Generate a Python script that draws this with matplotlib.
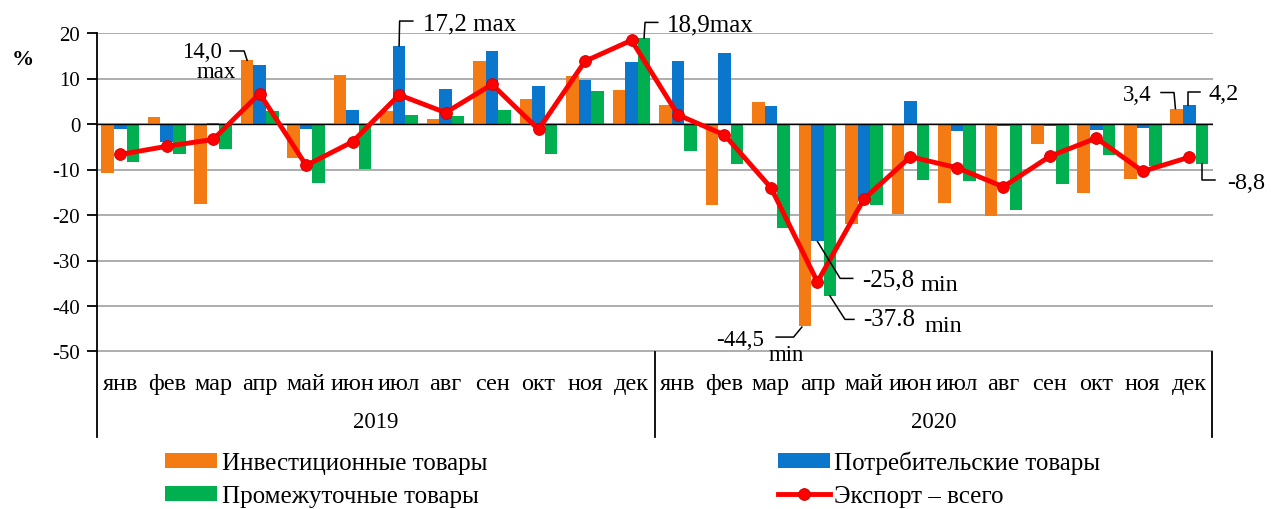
import matplotlib
matplotlib.use("Agg")
import matplotlib.pyplot as plt
from matplotlib.lines import Line2D
from matplotlib.transforms import IdentityTransform, blended_transform_factory

plt.rcParams['font.family'] = ['Liberation Serif', 'DejaVu Serif']
plt.rcParams['axes.unicode_minus'] = False

months = ['янв', 'фев', 'мар', 'апр', 'май', 'июн', 'июл', 'авг', 'сен', 'окт', 'ноя', 'дек']
years = ['2019', '2020']
invest = [-10.7, 1.5, -17.6, 14.0, -7.5, 10.8, 2.9, 1.2, 13.8, 5.6, 10.5, 7.5,
          4.1, -17.9, 4.8, -44.5, -21.9, -19.8, -17.4, -20.3, -4.5, -15.2, -12.1, 3.4]
consumer = [-1.2, -4.0, 0.3, 13.0, -1.2, 3.1, 17.2, 7.7, 16.0, 8.3, 9.6, 13.6,
            13.8, 15.5, 4.0, -25.8, -16.5, 5.1, -1.5, -0.5, -0.5, -1.3, -0.8, 4.2]
intermediate = [-8.4, -6.6, -5.4, 2.8, -13.0, -9.9, 2.0, 1.8, 3.1, -6.7, 7.2, 18.9,
                -6.0, -8.7, -22.9, -37.8, -17.8, -12.3, -12.6, -19.0, -13.1, -6.9, -9.2, -8.8]
export = [-6.7, -4.9, -3.4, 6.7, -9.1, -3.9, 6.4, 2.5, 8.7, -1.2, 13.8, 18.4,
          2.0, -2.4, -14.0, -34.7, -16.5, -7.2, -9.6, -13.8, -7.1, -3.1, -10.4, -7.3]
series_names = ['Инвестиционные товары', 'Потребительские товары',
                'Промежуточные товары', 'Экспорт – всего']

C_OR = '#F47A14'
C_BL = '#0A76CC'
C_GR = '#00AF50'
C_RD = '#FF0000'

W, H = 1271, 510
fig = plt.figure(figsize=(W / 100, H / 100), dpi=100)
ax = fig.add_axes([97 / W, 1 - 352.5 / H, (1212.5 - 97) / W, (352.5 - 34) / H])

n = len(invest)
x = list(range(n))
bw = 0.27
off = 0.27
b1 = ax.bar([i - off for i in x], invest, bw, color=C_OR, zorder=3, label=series_names[0])
b2 = ax.bar(x, consumer, bw, color=C_BL, zorder=3, label=series_names[1])
b3 = ax.bar([i + off for i in x], intermediate, bw, color=C_GR, zorder=3, label=series_names[2])
ln, = ax.plot(x, export, color=C_RD, lw=3.5, marker='o', ms=8.5, mfc=C_RD, mec='#D00000',
              mew=0.6, zorder=5, label=series_names[3])

ax.set_xlim(-0.5, n - 0.5)
ax.set_ylim(-50, 20)
ax.set_yticks(range(-50, 21, 10))
ax.yaxis.grid(True, color='#A0A0A0', lw=1.2, zorder=0)
ax.axhline(0, color='black', lw=1.0, zorder=4)
ax.set_xticks([])
for s in ['top', 'right', 'bottom']:
    ax.spines[s].set_visible(False)
ax.spines['left'].set_linewidth(1.3)
ax.spines['left'].set_zorder(6)
ax.tick_params(axis='y', direction='out', length=7, width=1.3, labelsize=15, pad=5)

tr = blended_transform_factory(ax.transData, ax.transAxes)
ah = 352.5 - 34
for i in x:
    ax.text(i, -32 / ah, months[i % 12], transform=tr, ha='center', va='center', fontsize=17.5)
for k, yr in enumerate(years):
    ax.text(k * 12 + 5.5, -70 / ah, yr, transform=tr, ha='center', va='center', fontsize=16.5)
for xb in [-0.5, 11.5, 23.5]:
    ax.add_line(Line2D([xb, xb], [0, -85.5 / ah], transform=tr, color='black', lw=1.3, clip_on=False))

fig.text(23 / W, 1 - 60 / H, '%', ha='center', va='center', fontsize=16, fontweight='bold')

# annotations with leader lines (offsets in pixels, y downward like the picture)
def anchor(xd, yd):
    return ax.transData.transform((xd, yd))

def leader(xd, yd, path):
    ax0, ay0 = anchor(xd, yd)
    xs = [ax0 + dx for dx, dy in path]
    ys = [ay0 - dy for dx, dy in path]
    fig.add_artist(Line2D(xs, ys, transform=IdentityTransform(), color='black', lw=1.1, zorder=10))

def label(xd, yd, dx, dy, s, ha='left', size=17.5):
    ax0, ay0 = anchor(xd, yd)
    fig.text((ax0 + dx) / W, (ay0 - dy) / H, s, ha=ha, va='center', fontsize=size)

# 14,0 max
leader(3 - off, invest[3], [(-17, -9.3), (-3, -9.3), (0, 0)])
label(3 - off, invest[3], -25, -8.5, '14,0', ha='right', size=16.5)
label(3 - off, invest[3], -11, 11, 'max', ha='right', size=16.5)
# 17,2 max
leader(6, consumer[6], [(0, 0), (0.5, -24.7), (13.7, -24.7)])
label(6, consumer[6], 23.7, -22.5, '17,2 max', size=18)
# 18,9max
leader(11 + off, intermediate[11], [(0, 0), (1, -15.6), (13.7, -15.6)])
label(11 + off, intermediate[11], 22.7, -13.3, '18,9max', size=18)
# -25,8 min
leader(15, consumer[15], [(0, 0), (22.7, 37), (35.3, 37)])
label(15, consumer[15], 44.3, 38.5, '-25,8', size=18)
label(15, consumer[15], 102.7, 43, 'min', size=17.5)
# -37.8 min
leader(15 + off, intermediate[15], [(0, 0), (15, 23.4), (24, 23.4)])
label(15 + off, intermediate[15], 33.3, 23.5, '-37.8', size=18)
label(15 + off, intermediate[15], 95, 29.5, 'min', size=17.5)
# -44,5 min
leader(15 - off, invest[15], [(-3, 0.6), (-11.3, 10.6), (-28.7, 10.6)])
label(15 - off, invest[15], -40.7, 13, '-44,5', ha='right', size=16.5)
label(15 - off, invest[15], -19, 28, 'min', ha='center', size=16.5)
# 3,4
leader(23 - off, invest[23], [(-1.3, 0), (-2.7, -16), (-15.7, -16)])
label(23 - off, invest[23], -25.3, -14.3, '3,4', ha='right', size=16.5)
# 4,2
leader(23, consumer[23], [(-1.2, 0), (-1.2, -12.7), (11.2, -12.7)])
label(23, consumer[23], 19.5, -11.5, '4,2', size=17.5)
# -8,8
leader(23 + off, intermediate[23], [(0, 0), (0, 16), (13.5, 16)])
label(23 + off, intermediate[23], 25.2, 18, '-8,8', size=17.5)

fs_leg = 18
leg = fig.legend([b1, b3, b2, ln],
                 [series_names[0], series_names[2], series_names[1], series_names[3]],
                 ncol=2, loc='upper left', bbox_to_anchor=(165 / W, 1 - 452 / H),
                 frameon=False, fontsize=fs_leg, handlelength=2.08, handleheight=0.55,
                 handletextpad=0.2, columnspacing=11.6, labelspacing=0.42,
                 borderaxespad=0, borderpad=0)

fig.savefig('out.png', dpi=100)
